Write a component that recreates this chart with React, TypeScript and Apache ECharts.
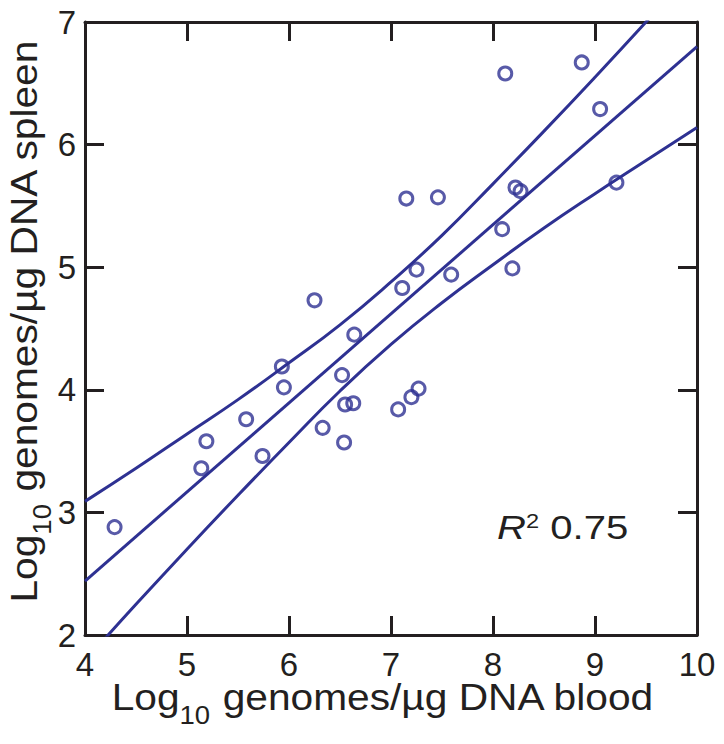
import React, { useEffect, useRef } from "react";
import * as echarts from "echarts";

// Scatter data: log10 genomes/µg DNA (blood vs spleen)
const bloodX = [4.29, 5.14, 5.19, 5.58, 5.74, 5.93, 5.95, 6.25, 6.33, 6.52, 6.54, 6.55, 6.63, 6.64, 7.07, 7.11, 7.15, 7.2, 7.25, 7.27, 7.46, 7.59, 8.09, 8.12, 8.19, 8.22, 8.27, 8.87, 9.05, 9.21];
const spleenY = [2.88, 3.36, 3.58, 3.76, 3.46, 4.19, 4.02, 4.73, 3.69, 4.12, 3.57, 3.88, 3.89, 4.45, 3.84, 4.83, 5.56, 3.94, 4.98, 4.01, 5.57, 4.94, 5.31, 6.58, 4.99, 5.65, 5.62, 6.67, 6.29, 5.69];

// Regression line end points
const fitX = [4, 10];
const fitY = [2.44, 6.8];

// Confidence band
const bandX = [4, 4.5, 5, 5.5, 6, 6.5, 7, 7.5, 8, 8.5, 9, 9.5, 10];
const upperY = [3.09, 3.36, 3.64, 3.92, 4.22, 4.53, 4.88, 5.26, 5.68, 6.11, 6.55, 7.0, 7.46];
const lowerY = [1.79, 2.25, 2.7, 3.14, 3.57, 3.99, 4.37, 4.71, 5.02, 5.32, 5.6, 5.87, 6.14];

const xTicks = { min: 4, max: 10, interval: 1 };
const yTicks = { min: 2, max: 7, interval: 1 };

const xTitle = "{a|Log}{s|10}{a| genomes/µg DNA blood}";
const yTitle = "{a|Log}{s|10}{a| genomes/µg DNA spleen}";
const r2Text = "{r|R}{p|2}{a| 0.75}";

const NAVY = "#2e3192";
const INK = "#231f20";
const FONT = '"Liberation Sans", Arial, Helvetica, sans-serif';

export default function App() {
  const ref = useRef<HTMLDivElement>(null);
  useEffect(() => {
    if (!ref.current) return;
    const chart = echarts.init(ref.current, undefined, { renderer: "svg" });
    const zip = (xs: number[], ys: number[]) => xs.map((x, i) => [x, ys[i]]);
    const axisLine = { show: true, onZero: false, lineStyle: { color: INK, width: 3 } };
    const axisTick = { show: true, inside: true, length: 19, lineStyle: { color: INK, width: 3 } };
    const titleRich = {
      a: { fontSize: 37, fontFamily: FONT, fill: INK },
      s: { fontSize: 25, fontFamily: FONT, fill: INK, padding: [36, 0, 0, 0] },
    };
    chart.setOption({
      animation: false,
      backgroundColor: "#ffffff",
      grid: { left: 85, top: 22, width: 612, height: 613 },
      xAxis: [
        {
          type: "value", ...xTicks, position: "bottom",
          axisLine, axisTick, splitLine: { show: false },
          axisLabel: { show: true, fontSize: 33, fontFamily: FONT, color: INK, margin: 13, showMinLabel: true, showMaxLabel: true },
        },
        {
          type: "value", ...xTicks, position: "top",
          axisLine, axisTick, splitLine: { show: false }, axisLabel: { show: false },
        },
      ],
      yAxis: [
        {
          type: "value", ...yTicks, position: "left",
          axisLine, axisTick, splitLine: { show: false },
          axisLabel: { show: true, fontSize: 33, fontFamily: FONT, color: INK, margin: 9, showMinLabel: true, showMaxLabel: true },
        },
        {
          type: "value", ...yTicks, position: "right",
          axisLine, axisTick, splitLine: { show: false }, axisLabel: { show: false },
        },
      ],
      series: [
        {
          type: "line", data: zip(bandX, upperY), smooth: true, showSymbol: false, clip: true,
          lineStyle: { color: NAVY, width: 3 }, z: 2,
        },
        {
          type: "line", data: zip(fitX, fitY), showSymbol: false, clip: true,
          lineStyle: { color: NAVY, width: 3 }, z: 2,
        },
        {
          type: "line", data: zip(bandX, lowerY), smooth: true, showSymbol: false, clip: true,
          lineStyle: { color: NAVY, width: 3 }, z: 2,
        },
        {
          type: "scatter", data: zip(bloodX, spleenY), symbol: "circle", symbolSize: 13,
          itemStyle: { color: "rgba(0,0,0,0)", borderColor: NAVY, borderWidth: 3 }, z: 3,
        },
      ],
      graphic: [
        {
          type: "text", x: 383, y: 697, scaleX: 1.1,
          style: { text: xTitle, align: "center", verticalAlign: "middle", rich: titleRich },
        },
        {
          type: "text", x: 24, y: 321, rotation: Math.PI / 2, scaleX: 1.1,
          style: { text: yTitle, align: "center", verticalAlign: "middle", rich: titleRich },
        },
        {
          type: "text", x: 497, y: 527, scaleX: 1.18,
          style: {
            text: r2Text, align: "left", verticalAlign: "middle",
            rich: {
              r: { fontSize: 34, fontFamily: FONT, fontStyle: "italic", fill: INK },
              p: { fontSize: 20, fontFamily: FONT, fill: INK, padding: [0, 0, 12, 0] },
              a: { fontSize: 34, fontFamily: FONT, fill: INK },
            },
          },
        },
      ],
    });
    return () => chart.dispose();
  }, []);
  return (
    <div
      ref={ref}
      style={{ position: "fixed", left: 0, top: 0, width: 724, height: 744, background: "#fff" }}
    />
  );
}
